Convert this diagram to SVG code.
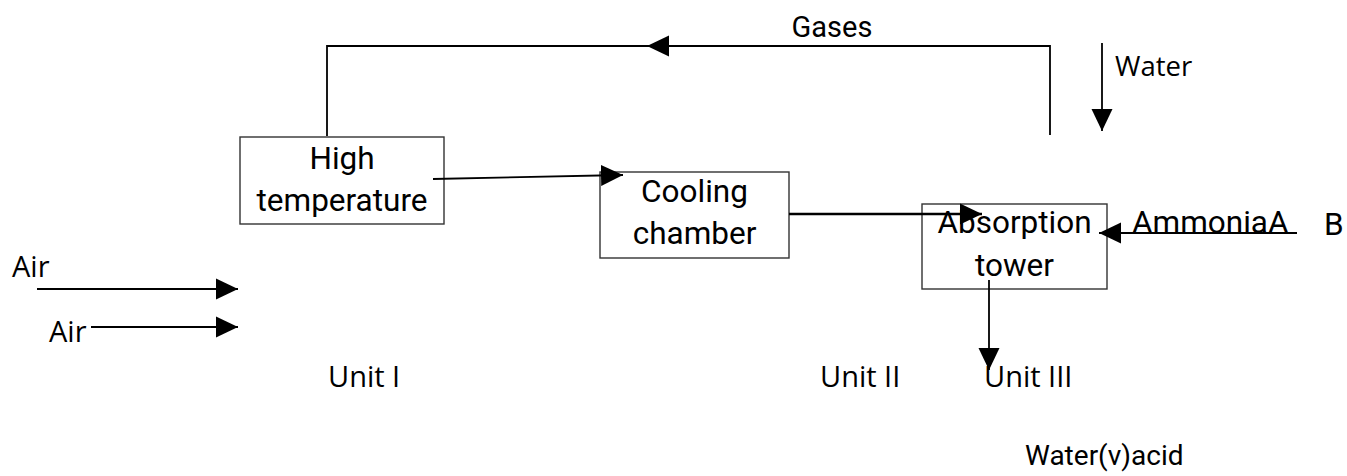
<svg xmlns="http://www.w3.org/2000/svg" width="1347" height="476" viewBox="0 0 1347 476">
<style>
.box{fill:none;stroke:#333;stroke-width:1.4}
.ln{fill:none;stroke:#000;stroke-width:1.8}
.ah{fill:#000;stroke:none}
.t{font-family:Roboto,"Liberation Sans",sans-serif;font-size:31.5px;fill:#000}
.g{font-family:Roboto,"Liberation Sans",sans-serif;font-size:29px;fill:#000}
.w{font-family:Roboto,"Liberation Sans",sans-serif;font-size:28px;fill:#000}
.s{font-family:"Open Sans","Liberation Sans",sans-serif;font-size:29px;fill:#000}
.c{text-anchor:middle}
</style>
<defs>
<marker id="arr" markerUnits="userSpaceOnUse" markerWidth="22" markerHeight="22" viewBox="0 0 22 21" refX="22" refY="10.5" orient="auto">
<path d="M0,0 L22,10.5 L0,21 Z" fill="#000"/>
</marker>
</defs>
<rect width="1347" height="476" fill="#fff"/>
<g id="high-temperature">
<rect class="box" x="240" y="137" width="204" height="87"/>
<text class="t c" x="342" y="169">High</text>
<text class="t c" x="342" y="211">temperature</text>
</g>
<g id="cooling-chamber">
<rect class="box" x="600" y="172" width="189" height="86"/>
<text class="t c" x="694.5" y="202">Cooling</text>
<text class="t c" x="694.5" y="244">chamber</text>
</g>
<g id="absorption-tower">
<rect class="box" x="922" y="204" width="185" height="85"/>
<text class="t c" x="1014.5" y="233">Absorption</text>
<text class="t c" x="1014.5" y="276">tower</text>
</g>
<g id="labels">
<text class="g c" x="832" y="37">Gases</text>
<text class="s" x="1115" y="76" style="font-size:27.5px">Water</text>
<text class="t" x="1132" y="233">AmmoniaA</text>
<text class="t" x="1324" y="235">B</text>
<text class="s" x="12" y="277">Air</text>
<text class="s" x="49" y="342">Air</text>
<text class="s" x="328" y="387">Unit I</text>
<text class="s" x="820" y="387">Unit II</text>
<text class="s" x="984" y="387">Unit III</text>
<text class="w" x="1025" y="465">Water(v)acid</text>
</g>
<g id="connectors">
<polyline class="ln" points="1050,135 1050,46 327,46 327,136"/>
<polygon class="ah" points="647,46 669,35.5 669,56.5"/>
<line class="ln" x1="1102" y1="43" x2="1102" y2="131" marker-end="url(#arr)"/>
<line class="ln" x1="433" y1="179" x2="623" y2="175" marker-end="url(#arr)"/>
<line class="ln" x1="789" y1="214" x2="982" y2="214" style="stroke-width:2.4" marker-end="url(#arr)"/>
<line class="ln" x1="1297" y1="233" x2="1099" y2="233" marker-end="url(#arr)"/>
<line class="ln" x1="989" y1="280" x2="989" y2="370" marker-end="url(#arr)"/>
<line class="ln" x1="37" y1="289" x2="238" y2="289" marker-end="url(#arr)"/>
<line class="ln" x1="91" y1="327" x2="238" y2="327" marker-end="url(#arr)"/>
</g>
</svg>
